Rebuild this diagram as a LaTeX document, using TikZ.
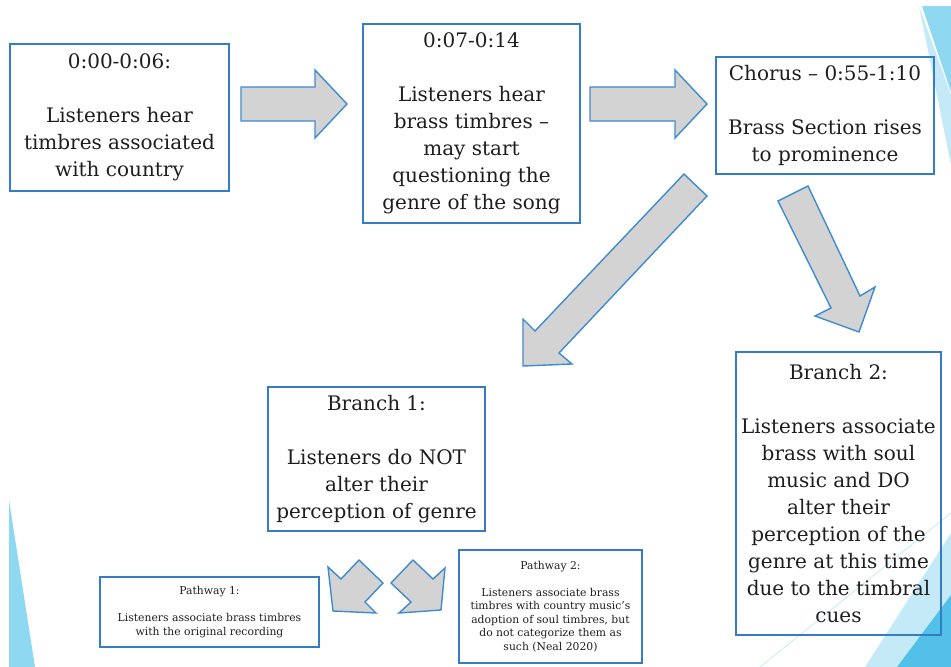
\documentclass[tikz,border=0pt]{standalone}
\usepackage{fontspec}
\setmainfont{DejaVu Serif}
\usepackage{tikz}

\definecolor{boxblue}{RGB}{52,125,195}
\definecolor{arrowblue}{RGB}{62,140,205}
\definecolor{arrowgray}{RGB}{211,211,211}
\definecolor{skyone}{RGB}{142,216,242}
\definecolor{skytwo}{RGB}{82,192,233}
\definecolor{skypale}{RGB}{196,234,248}
\definecolor{textgray}{RGB}{30,30,30}

\newcommand{\bigtext}{\fontsize{20}{27}\selectfont}
\newcommand{\smalltext}{\fontsize{10.8}{13.5}\selectfont}

\tikzset{
  box/.style={draw=boxblue, line width=1.8pt, align=center, inner sep=2pt,
    text=textgray, font=\bigtext},
  smallbox/.style={box, font=\smalltext},
  blockarrow/.style={draw=arrowblue, fill=arrowgray, line width=1.4pt,
    line join=miter},
}

\begin{document}
\begin{tikzpicture}[x=1pt, y=-1pt]
    \useasboundingbox (0, 0) rectangle (951, 667);

    % Corner decorations
    \fill[skypale] (919, 6) -- (951, 95) -- (951, 165) -- cycle;
    \fill[skyone] (922, 6) -- (951, 6) -- (951, 92) -- cycle;
    \fill[skyone] (9, 500) -- (35, 667) -- (9, 667) -- cycle;
    \fill[skypale] (951, 533) -- (951, 667) -- (865, 667) -- cycle;
    \fill[skytwo] (951, 595) -- (951, 667) -- (897, 667) -- cycle;
    \draw[skypale, line width=0.8pt] (951, 513) -- (760, 667);

    % Boxes of the timeline
    \node[box, minimum width=219, minimum height=147] (intro) at (119.5, 117.5)
      {0:00-0:06:\\[27pt]Listeners hear\\timbres associated\\with country};
    \node[box, minimum width=217, minimum height=199] (brass) at (471.5, 123.5)
      {0:07-0:14\\[27pt]Listeners hear\\brass timbres --\\may start\\questioning the\\genre of the song};
    \node[box, minimum width=218, minimum height=117] (chorus) at (825, 115.5)
      {Chorus -- 0:55-1:10\\[27pt]Brass Section rises\\to prominence};

    % Boxes of the two branches
    \node[box, minimum width=217, minimum height=144] (branchone) at (376.5, 459)
      {Branch 1:\\[27pt]Listeners do NOT\\alter their\\perception of genre};
    \node[box, minimum width=205, minimum height=283] (branchtwo) at (838.5, 493.5)
      {Branch 2:\\[27pt]Listeners associate\\brass with soul\\music and DO\\alter their\\perception of the\\genre at this time\\due to the timbral\\cues};

    % Boxes of the pathways
    \node[smallbox, minimum width=219, minimum height=70] (pathone) at (209.5, 612)
      {Pathway 1:\\[13.5pt]Listeners associate brass timbres\\with the original recording};
    \node[smallbox, minimum width=183, minimum height=113] (pathtwo) at (550.5, 606.5)
      {Pathway 2:\\[13.5pt]Listeners associate brass\\timbres with country music’s\\adoption of soul timbres, but\\do not categorize them as\\such (Neal 2020)};

    % Block arrows
    \draw[blockarrow] (241, 87) -- (315, 87) -- (315, 70) -- (347, 104)
      -- (315, 138) -- (315, 121) -- (241, 121) -- cycle;
    \draw[blockarrow] (590, 87) -- (675, 87) -- (675, 70) -- (707, 104)
      -- (675, 138) -- (675, 121) -- (590, 121) -- cycle;
    \draw[blockarrow] (707, 196) -- (559, 353) -- (572, 364) -- (523, 366)
      -- (523, 319) -- (535, 331) -- (684, 174) -- cycle;
    \draw[blockarrow] (808, 186) -- (860, 296) -- (875, 287) -- (859, 332)
      -- (815, 316) -- (831, 308) -- (778, 201) -- cycle;
    \draw[blockarrow] (359, 560) -- (383, 583) -- (365, 602) -- (376, 613)
      -- (333, 611) -- (328, 567) -- (341, 579) -- cycle;
    \draw[blockarrow] (413, 560) -- (391, 583) -- (411, 602) -- (399, 613)
      -- (441, 610) -- (445, 568) -- (433, 579) -- cycle;
\end{tikzpicture}
\end{document}
